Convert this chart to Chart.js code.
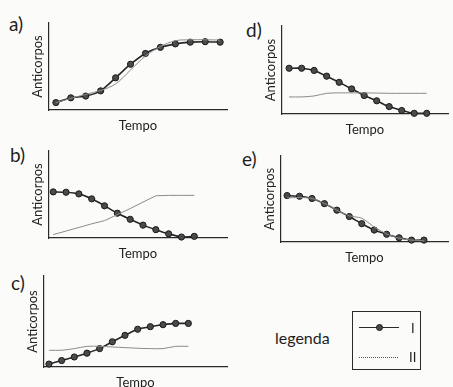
<!DOCTYPE html>
<html>
<head>
<meta charset="utf-8">
<script src="https://cdn.jsdelivr.net/npm/chart.js@4.4.1/dist/chart.umd.min.js"></script>
<style>
  html, body { margin: 0; padding: 0; background: #fbfbf9; width: 453px; height: 387px; overflow: hidden; }
  body { position: relative; font-family: Lato, "Open Sans", sans-serif; color: #1e1e1e; }
  canvas { position: absolute; }
  .lab { position: absolute; font-size: 19px; line-height: 1; }
  .legbox { position: absolute; left: 352px; top: 311px; width: 69px; height: 59px; border: 1px solid #2a2a2a; box-sizing: border-box; }
  .legword { position: absolute; left: 275px; top: 330px; font-size: 16px; line-height: 1; }
  .ln { position: absolute; height: 0; }
  .dot { position: absolute; width: 7px; height: 7px; border-radius: 50%; background: #4a4a4a; border: 1px solid #1a1a1a; box-sizing: border-box; }
  .rom { position: absolute; font-size: 13px; line-height: 1; color: #1e1e1e; will-change: transform; background: #fbfbf9; }
</style>
</head>
<body>
<div class="lab" style="left:9px;top:14px">a)</div>
<div class="lab" style="left:246px;top:20px">d)</div>
<div class="lab" style="left:10px;top:145px">b)</div>
<div class="lab" style="left:242px;top:149px">e)</div>
<div class="lab" style="left:11px;top:273px">c)</div>

<div class="legword">legenda</div>
<div class="legbox"></div>
<div class="ln" style="left:359px;top:327px;width:40px;border-top:1.5px solid #2a2a2a"></div>
<div class="dot" style="left:376px;top:324px"></div>
<div class="rom" style="left:411px;top:322px">I</div>
<div class="ln" style="left:359px;top:357px;width:39px;border-top:1px dotted #555"></div>
<div class="rom" style="left:409px;top:351px">II</div>

<canvas id="ca"></canvas>
<canvas id="cb"></canvas>
<canvas id="cc"></canvas>
<canvas id="cd"></canvas>
<canvas id="ce"></canvas>

<script>
// time points (no tick labels shown in the figure)
const timePoints = [0, 1, 2, 3, 4, 5, 6, 7, 8, 9, 10, 11];

// antibody levels, 0-100 of the axis height
const aI  = [8.5, 14, 16, 22, 37, 52.6, 65, 72, 76, 78, 78.5, 78];
const aII = [8.5, 13.3, 18, 22.5, 30, 46, 62, 73, 79.6, 80.7, 80.7, 80.4];

const bI  = [53, 52.6, 50.7, 45, 37, 28.5, 21.5, 14.8, 9.6, 4.8, 1.1, 1.9];
const bII = [3.9, 8, 12.1, 16.3, 19.9, 26.9, 33.8, 41.3, 48.5, 49, 49, 49];

const cI  = [3.2, 7.1, 11, 15.2, 20.2, 27.7, 34.8, 41.5, 44.3, 46.5, 47.9, 47.9];
const cII = [18.4, 18.4, 20.2, 22.7, 22.7, 22, 21.3, 20.6, 20.2, 20.2, 22.7, 22.7];

const dI  = [52, 52, 49.5, 43, 36, 28.5, 21, 15, 8.4, 4, 0.8, 0.8];
const dII = [19.4, 19.4, 20.5, 23.5, 24, 24, 24, 23.8, 23.5, 23.5, 23.5, 23.5];

const eI  = [54, 53.2, 50.6, 44.6, 37, 29.6, 21.3, 13.9, 9, 4.9, 2.2, 2.2];
const eII = [51.3, 51.7, 50.6, 45, 37, 30.5, 27.5, 17.5, 9.4, 4.5, 2.2, 1.5];

const xTitle = "Tempo";
const yTitle = "Anticorpos";

// panel frames: axis corner positions on the page
const panels = [
  { id: "ca", I: aI, II: aII, axL: 49,  axT: 20,  axR: 230, axB: 110, xmin: -0.46, xmax: 11.46, tII: 0.35 },
  { id: "cb", I: bI, II: bII, axL: 49,  axT: 148, axR: 230, axB: 238, xmin: -0.33, xmax: 13.55, tII: 0 },
  { id: "cc", I: cI, II: cII, axL: 44,  axT: 273, axR: 230, axB: 367, xmin: -0.39, xmax: 14.05, tII: 0.3 },
  { id: "cd", I: dI, II: dII, axL: 282, axT: 23,  axR: 453, axB: 114, xmin: -0.57, xmax: 12.7,  tII: 0.3 },
  { id: "ce", I: eI, II: eII, axL: 281, axT: 153, axR: 453, axB: 242, xmin: -0.49, xmax: 12.93, tII: 0.35 }
];

const YT_W = 23;   // y title band: 15 line + 4 + 4 padding
const XT_H = 23;   // x title band: 15 line + 8 padding
const PAD = 2;

function pts(arr) { return timePoints.map((x, i) => ({ x, y: arr[i] })); }

function build(p) {
  const el = document.getElementById(p.id);
  const pr = p.axR >= 453 ? 0 : PAD;
  const w = (p.axR - p.axL) + YT_W + PAD + pr;
  const h = (p.axB - p.axT) + XT_H + PAD + 2;
  el.width = w; el.height = h;
  el.style.left = (p.axL - YT_W - PAD) + "px";
  el.style.top = (p.axT - PAD) + "px";
  el.style.width = w + "px";
  el.style.height = h + "px";

  const titleFont = { family: "Lato", size: 13, lineHeight: "15px" };
  new Chart(el.getContext("2d"), {
    type: "line",
    data: {
      datasets: [
        {
          label: "II",
          data: pts(p.II),
          borderColor: "#8a8a8a",
          borderWidth: 1,
          pointRadius: 0,
          tension: p.tII,
          clip: false
        },
        {
          label: "I",
          data: pts(p.I),
          borderColor: "#262626",
          borderWidth: 1.6,
          backgroundColor: "#4a4a4a",
          pointBackgroundColor: "#4a4a4a",
          pointBorderColor: "#1a1a1a",
          pointBorderWidth: 1,
          pointRadius: 3.1,
          tension: 0.2,
          clip: false
        }
      ]
    },
    options: {
      responsive: false,
      animation: false,
      layout: { padding: { left: PAD, right: pr, top: PAD, bottom: 2 } },
      plugins: { legend: { display: false }, tooltip: { enabled: false } },
      scales: {
        x: {
          type: "linear",
          min: p.xmin,
          max: p.xmax,
          ticks: { display: false },
          grid: { display: false, drawTicks: false },
          border: { color: "#2b2b2b", width: 1.2 },
          title: { display: true, text: xTitle, color: "#222", font: titleFont, padding: { top: 8, bottom: 0 } }
        },
        y: {
          min: 0,
          max: 100,
          ticks: { display: false },
          grid: { display: false, drawTicks: false },
          border: { color: "#2b2b2b", width: 1.2 },
          title: { display: true, text: yTitle, color: "#222", font: titleFont, padding: { top: 4, bottom: 4 } }
        }
      }
    }
  });
}

panels.forEach(build);
</script>
</body>
</html>
